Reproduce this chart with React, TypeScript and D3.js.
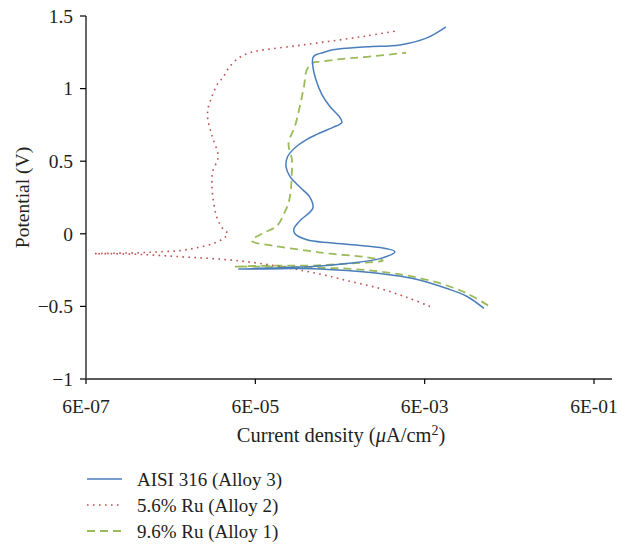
import * as d3 from 'd3'

// potentiodynamic polarisation curves
const SERIES_NAMES = ['AISI 316 (Alloy 3)', '5.6% Ru (Alloy 2)', '9.6% Ru (Alloy 1)']

const ALLOY3_I = [
  3.01e-2, 1.9e-2, 1.1e-2, 4.37e-3, 1.78e-3, 7.24e-4, 2.87e-4, 1.17e-4, 3.73e-5,
  1.17e-4, 2.87e-4, 7.24e-4, 1.78e-3, 2.67e-3, 2.15e-3, 1.12e-3, 4.56e-4, 2.44e-4,
  1.76e-4, 1.71e-4, 2.01e-4, 2.87e-4, 2.64e-4, 2.01e-4, 1.53e-4, 1.38e-4, 1.45e-4,
  1.85e-4, 2.44e-4, 3.2e-4, 4.94e-4, 6.31e-4, 5.98e-4, 4.56e-4, 3.67e-4, 3.11e-4,
  2.87e-4, 2.87e-4, 3.11e-4, 3.77e-4, 4.94e-4, 1.25e-3, 3.06e-3, 6.38e-3, 1.07e-2,
]
const ALLOY3_E = [
  -0.514, -0.432, -0.377, -0.308, -0.274, -0.253, -0.24, -0.24, -0.243,
  -0.233, -0.226, -0.205, -0.171, -0.123, -0.103, -0.082, -0.062, -0.041,
  0.0, 0.034, 0.089, 0.178, 0.253, 0.322, 0.397, 0.466, 0.534,
  0.603, 0.651, 0.685, 0.733, 0.767, 0.801, 0.877, 0.959, 1.062,
  1.151, 1.212, 1.233, 1.247, 1.267, 1.288, 1.301, 1.349, 1.425,
]

const ALLOY2_I = [
  6.93e-3, 3.71e-3, 1.78e-3, 7.24e-4, 2.87e-4, 1.17e-4, 4.76e-5, 1.89e-5, 7.69e-6,
  3.13e-6, 1.24e-6, 7.6e-7, 2.59e-6, 4.84e-6, 7.69e-6, 1.22e-5, 1.89e-5, 2.48e-5,
  2.84e-5, 2.48e-5, 2.1e-5, 1.89e-5, 1.84e-5, 1.89e-5, 2.16e-5, 2.16e-5, 1.84e-5,
  1.65e-5, 1.65e-5, 1.84e-5, 2.16e-5, 2.48e-5, 2.92e-5, 3.83e-5, 5.17e-5, 7.57e-5,
  1.85e-4, 4.94e-4, 1.25e-3, 2.75e-3,
]
const ALLOY2_E = [
  -0.5, -0.438, -0.377, -0.322, -0.267, -0.226, -0.192, -0.171, -0.158,
  -0.144, -0.137, -0.137, -0.13, -0.123, -0.116, -0.096, -0.068, -0.034,
  0.0, 0.034, 0.116, 0.253, 0.356, 0.432, 0.514, 0.555, 0.678,
  0.788, 0.856, 0.945, 1.034, 1.075, 1.144, 1.212, 1.247, 1.267,
  1.295, 1.329, 1.363, 1.397,
]

const ALLOY1_I = [
  3.36e-2, 1.9e-2, 1.1e-2, 4.37e-3, 1.78e-3, 7.24e-4, 2.87e-4, 1.17e-4, 3.43e-5,
  1.17e-4, 2.87e-4, 7.24e-4, 1.93e-3, 1.12e-3, 4.56e-4, 2.44e-4, 9.66e-5, 5.45e-5,
  7.16e-5, 1.08e-4, 1.34e-4, 1.49e-4, 1.58e-4, 1.62e-4, 1.62e-4, 1.49e-4, 1.49e-4,
  1.76e-4, 2.01e-4, 2.25e-4, 2.44e-4, 2.87e-4, 3.47e-4, 6.49e-4, 1.25e-3, 3.61e-3,
]
const ALLOY1_E = [
  -0.493, -0.411, -0.356, -0.295, -0.26, -0.24, -0.233, -0.226, -0.226,
  -0.219, -0.219, -0.205, -0.185, -0.158, -0.137, -0.116, -0.082, -0.048,
  0.0, 0.055, 0.151, 0.219, 0.308, 0.425, 0.514, 0.596, 0.637,
  0.74, 0.877, 1.014, 1.13, 1.178, 1.185, 1.205, 1.219, 1.247,
]

const X_TICKS = [6e-7, 6e-5, 6e-3, 6e-1]
const X_TICK_LABELS = ['6E-07', '6E-05', '6E-03', '6E-01']
const Y_TICKS = [-1, -0.5, 0, 0.5, 1, 1.5]
const Y_TICK_LABELS = ['\u22121', '\u22120.5', '0', '0.5', '1', '1.5']

const COLORS = ['#4A7EBB', '#C0504D', '#9BBB59']
const DASHES = [null, '1.6,4.4', '8,5']
const WIDTHS = [1.5, 1.6, 1.8]

const FONT = '"Liberation Serif", "Times New Roman", serif'

export default function App() {
  const W = 634
  const H = 544
  const left = 86, right = 594, axisEnd = 612
  const top = 16, bottom = 379

  const x = d3.scaleLog().domain([6e-7, 6e-1]).range([left, right])
  const y = d3.scaleLinear().domain([-1, 1.5]).range([bottom, top])

  const series = [
    { name: SERIES_NAMES[0], pts: ALLOY3_I.map((v, i) => [v, ALLOY3_E[i]]) },
    { name: SERIES_NAMES[1], pts: ALLOY2_I.map((v, i) => [v, ALLOY2_E[i]]) },
    { name: SERIES_NAMES[2], pts: ALLOY1_I.map((v, i) => [v, ALLOY1_E[i]]) },
  ]

  const line = d3.line<number[]>()
    .x(d => x(d[0]))
    .y(d => y(d[1]))
    .curve(d3.curveCatmullRom.alpha(0.5))

  // draw order: green, red, blue on top
  const order = [2, 1, 0]

  return (
    <div style={{ position: 'absolute', left: 0, top: 0 }}>
      <svg width={W} height={H} style={{ display: 'block', background: '#fff' }}>
        {order.map(k => (
          <path
            key={k}
            d={line(series[k].pts) || ''}
            fill="none"
            stroke={COLORS[k]}
            strokeWidth={WIDTHS[k]}
            strokeDasharray={DASHES[k] || undefined}
          />
        ))}

        {/* y axis */}
        <line x1={left} x2={left} y1={top} y2={bottom} stroke="#000" strokeWidth={1.2} />
        {Y_TICKS.map((t, i) => (
          <g key={t}>
            <line x1={left - 6} x2={left} y1={y(t)} y2={y(t)} stroke="#000" strokeWidth={1.2} />
            <text
              x={left - 13}
              y={y(t)}
              dy="0.35em"
              textAnchor="end"
              fontFamily={FONT}
              fontSize={19.5}
              fill="#231f20"
            >
              {Y_TICK_LABELS[i]}
            </text>
          </g>
        ))}

        {/* x axis */}
        <line x1={left} x2={axisEnd} y1={bottom} y2={bottom} stroke="#595959" strokeWidth={2} />
        {X_TICKS.map((t, i) => (
          <g key={t}>
            <line x1={x(t)} x2={x(t)} y1={bottom} y2={bottom + 5} stroke="#000" strokeWidth={1.2} />
            <text
              x={x(t)}
              y={413}
              textAnchor="middle"
              fontFamily={FONT}
              fontSize={19.5}
              fill="#231f20"
            >
              {X_TICK_LABELS[i]}
            </text>
          </g>
        ))}

        <text
          x={341}
          y={442}
          textAnchor="middle"
          fontFamily={FONT}
          fontSize={20.5}
          fill="#231f20"
        >
          Current density (<tspan fontStyle="italic">μ</tspan>A/cm
          <tspan fontSize={14} dy={-7}>2</tspan>
          <tspan dy={7}>)</tspan>
        </text>

        <text
          transform={`translate(29,${(top + bottom) / 2}) rotate(-90)`}
          textAnchor="middle"
          fontFamily={FONT}
          fontSize={19.5}
          fill="#231f20"
        >
          Potential (V)
        </text>

        {/* legend */}
        {series.map((s, k) => {
          const ly = 479 + k * 26
          return (
            <g key={s.name}>
              <line
                x1={87}
                x2={122}
                y1={ly}
                y2={ly}
                stroke={COLORS[k]}
                strokeWidth={WIDTHS[k]}
                strokeDasharray={DASHES[k] || undefined}
              />
              <text
                x={137}
                y={ly}
                dy="0.35em"
                fontFamily={FONT}
                fontSize={19}
                fill="#231f20"
              >
                {s.name}
              </text>
            </g>
          )
        })}
      </svg>
    </div>
  )
}
